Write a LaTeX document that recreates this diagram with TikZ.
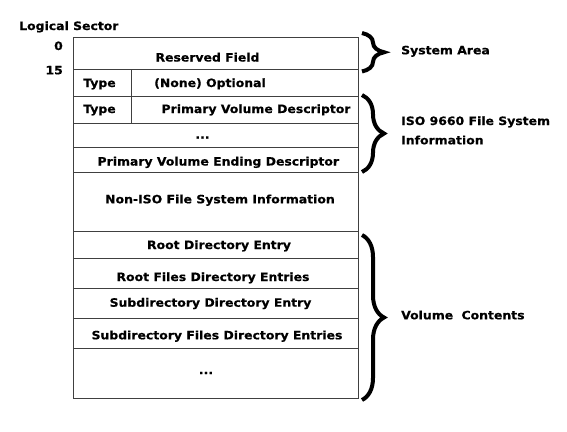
\documentclass[tikz,border=0pt]{standalone}
\usepackage{fontspec}
\newfontfamily\dfont{DejaVu Sans}[FakeStretch=1.08, BoldFeatures={FakeBold=0.6}]
\usetikzlibrary{decorations.pathreplacing}
\begin{document}
\begin{tikzpicture}[x=1bp,y=-1bp,
  cell/.style 2 args={draw=black!75, line width=0.9bp, rectangle, inner sep=0pt, outer sep=0pt,
    anchor=north west, minimum width=#1bp, minimum height=#2bp},
  txt/.style={font=\dfont\bfseries\fontsize{11.5bp}{13bp}\selectfont, inner sep=0pt, anchor=base},
  ltxt/.style={txt, anchor=base west},
  rtxt/.style={txt, anchor=base east},
  bigbrace/.style={decorate, decoration={brace, amplitude=22bp}, line width=4bp, black}
]
\useasboundingbox (0,0) rectangle (567,431);

% cells
\node[cell={285}{32}] (r1) at (73,37) {};
\node[cell={58.5}{27}] (r2a) at (73,69) {};
\node[cell={226.5}{27}] (r2b) at (131.5,69) {};
\node[cell={58.5}{27}] (r3a) at (73,96) {};
\node[cell={226.5}{27}] (r3b) at (131.5,96) {};
\node[cell={285}{24}] (r4) at (73,123) {};
\node[cell={285}{25}] (r5) at (73,147) {};
\node[cell={285}{59}] (r6) at (73,172) {};
\node[cell={285}{27}] (r7) at (73,231) {};
\node[cell={285}{30}] (r8) at (73,258) {};
\node[cell={285}{30}] (r9) at (73,288) {};
\node[cell={285}{30}] (r10) at (73,318) {};
\node[cell={285}{50}] (r11) at (73,348) {};

% cell texts
\node[txt] (t1) at (207.5,61.5) {Reserved Field};
\node[txt] (t2a) at (99.5,87) {Type};
\node[txt] (t2b) at (210,87) {(None) Optional};
\node[txt] (t3a) at (99.5,113) {Type};
\node[txt] (t3b) at (256,113) {Primary Volume Descriptor};
\node[txt] (t4) at (202.5,138.5) {...};
\node[txt] (t5) at (218.3,165.5) {Primary Volume Ending Descriptor};
\node[txt] (t6) at (220,203.3) {Non-ISO File System Information};
\node[txt] (t7) at (219,249) {Root Directory Entry};
\node[txt] (t8) at (213,281) {Root Files Directory Entries};
\node[txt] (t9) at (210.5,306.7) {Subdirectory Directory Entry};
\node[txt] (t10) at (217,339.3) {Subdirectory Files Directory Entries};
\node[txt] (t11) at (206,374) {...};

% left labels
\node[ltxt] (ls) at (19,30) {Logical Sector};
\node[rtxt] (s0) at (63,50) {0};
\node[rtxt] (s15) at (63,74.3) {15};

% braces
\coordinate (b1t) at (362,33);
\coordinate (b1b) at (362,71.5);
\coordinate (b2t) at (362,95);
\coordinate (b2b) at (362,172);
\coordinate (b3t) at (362,235);
\coordinate (b3b) at (362,400);
\draw[bigbrace] (b1t) -- (b1b);
\draw[bigbrace] (b2t) -- (b2b);
\draw[bigbrace] (b3t) -- (b3b);

% right labels
\node[ltxt] (la) at (401,54.3) {System Area};
\node[ltxt] (lb1) at (401,125) {ISO 9660 File System};
\node[ltxt] (lb2) at (401,144.3) {Information};
\node[ltxt] (lc) at (401,319.3) {Volume\hspace{8.4bp}Contents};
\end{tikzpicture}
\end{document}
